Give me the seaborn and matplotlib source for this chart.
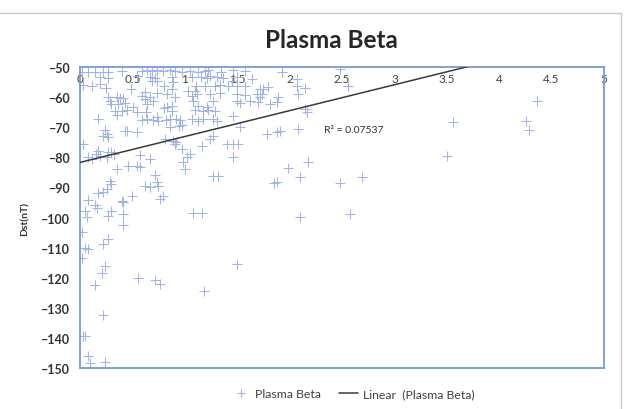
import numpy as np
import pandas as pd
import matplotlib
matplotlib.use("Agg")
import matplotlib.pyplot as plt
import seaborn as sns
from matplotlib.lines import Line2D

# ---------------- data ----------------
beta = [
    0.02, 0.08, 0.14, 0.22, 0.27, 0.40, 0.59, 0.64, 0.69, 0.73, 0.79, 0.86, 0.91, 0.97, 1.05, 1.13, 1.19, 1.22, 1.35, 1.46, 1.57, 1.93, 2.48,
    0.19, 0.27, 0.54, 0.67, 0.72, 0.88, 1.07, 1.15, 1.21, 1.24, 1.31, 1.36, 1.50, 1.64, 2.07,
    0.03, 0.11, 0.19, 0.25, 0.49, 0.69, 0.73, 0.80, 0.89, 0.88, 1.11, 1.19, 1.29, 1.34, 1.41, 1.50, 1.57, 1.72, 1.75, 1.79, 2.07, 2.15, 2.56, 1.45,
    0.62, 0.73, 0.83, 1.03, 1.10, 1.07, 1.12, 1.24, 1.34, 1.50, 1.57, 1.69, 1.74, 2.08, 0.27, 0.35, 0.41, 0.59, 0.67, 0.91, 1.72, 1.89,
    0.29, 0.38, 0.30, 0.36, 0.43, 0.51, 0.62, 0.64, 0.70, 0.80, 0.83, 0.88, 1.08, 1.13, 1.27, 1.21, 1.50, 1.53, 1.62, 1.70, 1.81, 1.88,
    0.33, 0.40, 0.45, 0.35, 0.54, 0.63, 0.73, 0.88, 1.10, 1.17, 1.22, 1.29, 2.15, 2.17, 1.46,
    0.17, 0.59, 0.64, 0.70, 0.74, 0.82, 0.86, 0.92, 0.95, 1.07, 1.17, 1.27, 1.31, 1.13,
    0.24, 0.45, 0.54, 0.86, 0.94, 0.97, 1.53, 1.78, 1.88, 1.91, 2.08, 0.22, 0.27, 0.26, 0.43, 1.24, 1.27,
    0.03, 0.81, 0.89, 0.92, 1.16, 1.40, 1.46, 1.51, 0.97, 0.91,
    0.11, 0.15, 0.17, 0.19, 0.26, 0.27, 0.30, 0.32, 0.08, 0.57, 0.67, 1.02, 1.05, 1.46, 3.50,
    0.98, 1.00, 0.35, 0.46, 0.54, 0.57, 2.18, 1.98, 0.72, 1.27, 1.32, 2.10, 2.69,
    0.29, 0.30, 0.73, 0.74, 0.62, 0.67, 0.26, 0.17, 0.22, 1.88, 1.85, 2.48,
    0.50, 0.79, 0.76, 0.08, 0.40, 0.41, 0.14,
    0.16, 0.05, 0.30, 0.07, 0.27, 0.41, 1.08, 1.16, 2.10, 2.58, 0.41,
    0.02, 0.05, 0.08, 0.02, 0.27, 0.22, 0.24, 0.21, 0.14, 0.55, 0.72, 0.76, 1.18, 1.50, 0.22, 0.03, 0.05, 0.08, 0.10, 0.24,
    4.36, 4.26, 4.28, 3.56,
]
dst = [
    -51.5, -51.5, -51.8, -51.5, -51.8, -51.3, -51.3, -51.0, -51.3, -51.0, -51.3, -51.0, -51.3, -51.5, -51.3, -51.5, -51.3, -51.0, -51.5, -51.0, -51.3, -51.7, -50.7,
    -53.3, -53.5, -53.0, -53.3, -53.5, -53.3, -53.3, -53.3, -53.5, -53.0, -53.3, -53.5, -53.3, -54.0, -54.0,
    -56.0, -56.3, -55.5, -57.0, -57.3, -54.6, -54.6, -56.3, -55.0, -57.3, -56.3, -56.3, -56.3, -56.0, -56.3, -56.3, -56.3, -57.3, -57.3, -56.6, -56.3, -57.0, -56.3, -54.6,
    -58.3, -58.6, -59.0, -58.0, -58.0, -59.6, -59.0, -59.0, -58.6, -59.0, -59.3, -59.0, -59.0, -59.0, -60.0, -60.0, -60.3, -59.6, -60.0, -60.0, -60.0, -60.0,
    -61.3, -60.3, -62.3, -62.3, -62.0, -63.3, -60.6, -62.3, -61.3, -63.5, -63.3, -63.0, -61.3, -63.0, -61.3, -63.3, -61.3, -62.0, -61.3, -61.6, -62.3, -61.6,
    -64.6, -64.6, -64.3, -66.0, -65.0, -65.0, -66.6, -64.6, -64.3, -64.6, -64.3, -64.6, -64.0, -65.0, -66.3,
    -67.3, -67.6, -67.3, -67.6, -68.0, -67.6, -67.3, -67.3, -67.6, -67.3, -67.3, -67.3, -68.0, -68.0,
    -71.0, -71.3, -71.6, -70.0, -69.6, -69.3, -70.0, -72.3, -71.6, -71.3, -70.6, -73.0, -73.3, -72.3, -71.3, -74.0, -73.0,
    -75.6, -74.0, -74.6, -75.0, -76.2, -75.6, -75.6, -75.6, -77.3, -75.6,
    -80.6, -79.0, -78.0, -79.6, -80.0, -78.3, -78.3, -79.0, -80.0, -79.3, -80.6, -80.0, -79.0, -80.0, -79.6,
    -81.6, -84.0, -84.0, -83.0, -83.0, -83.3, -81.6, -83.6, -86.0, -86.3, -86.3, -86.5, -86.5,
    -88.0, -89.0, -88.3, -89.5, -89.5, -89.8, -90.5, -92.0, -91.5, -88.2, -88.5, -88.5,
    -93.0, -92.8, -94.0, -94.3, -94.5, -95.0, -96.0,
    -96.8, -97.8, -97.8, -99.8, -99.5, -98.8, -98.5, -98.5, -99.8, -98.8, -102.5,
    -104.8, -110.0, -110.5, -113.5, -107.0, -108.8, -116.0, -118.5, -122.5, -120.0, -120.6, -122.0, -124.5, -115.5, -132.5, -139.5, -139.5, -146.0, -148.5, -148.0,
    -61.3, -68.0, -71.0, -68.3,
]
trend_slope = 8.6
trend_intercept = -81.7
r_squared = "0.07537"
x_ticks = [0, 0.5, 1, 1.5, 2, 2.5, 3, 3.5, 4, 4.5, 5]
x_tick_labels = ["0", "0.5", "1", "1.5", "2", "2.5", "3", "3.5", "4", "4.5", "5"]
y_ticks = [-50, -60, -70, -80, -90, -100, -110, -120, -130, -140, -150]
series_name = "Plasma Beta"
trend_name = "Linear  (Plasma Beta)"

# ---------------- plot ----------------
sns.set_theme(style="white")
plt.rcParams["font.family"] = ["Lato", "DejaVu Sans"]

df = pd.DataFrame({"beta": beta, "dst": dst})
tx = np.linspace(x_ticks[0], x_ticks[-1], 50)
trend = pd.DataFrame({"beta": tx, "dst": trend_slope * tx + trend_intercept})

fig = plt.figure(figsize=(6.25, 4.1), dpi=100)
ax = fig.add_axes([80 / 625, 1 - 369 / 410, (604 - 80) / 625, (369 - 68) / 410])

pt_color = "#a2b4e4"
sns.scatterplot(data=df, x="beta", y="dst", marker="+", s=45, color=pt_color,
                linewidth=0.75, ax=ax, legend=False, zorder=2)
sns.lineplot(data=trend, x="beta", y="dst", color="#3a3a3a", linewidth=1.1,
             ax=ax, legend=False, zorder=3)

ax.set_xlim(0, 5)
ax.set_ylim(-150, -50)
ax.set_xticks(x_ticks)
ax.set_xticklabels(x_tick_labels)
ax.set_yticks(y_ticks)
ax.xaxis.set_ticks_position("top")
ax.tick_params(axis="x", labeltop=True, labelbottom=False, length=0,
               pad=-12.5, labelsize=8.5, labelcolor="#404040")
ax.tick_params(axis="y", length=0, pad=7.5, labelsize=9, labelcolor="#333333")
for lab in ax.get_yticklabels():
    lab.set_fontweight("bold")
ax.set_xlabel("")
ax.set_ylabel("Dst(nT)", fontsize=7.5, fontweight="bold", color="#333333", labelpad=8)
ax.grid(False)
for sp in ax.spines.values():
    sp.set_visible(True)
    sp.set_color("#7a98d6")
    sp.set_linewidth(1.3)

ax.text(2.33, -70.6, "R² = " + r_squared, fontsize=7.5, color="#333333",
        va="center", ha="left")

fig.text(0.531, 1 - 40 / 410, "Plasma Beta", ha="center", va="center",
         fontsize=17.5, fontweight="bold", color="#262626")

handles = [
    Line2D([], [], marker="+", linestyle="none", color=pt_color, markersize=6, markeredgewidth=0.8),
    Line2D([], [], color="#3a3a3a", linewidth=1.1),
]
fig.legend(handles, [series_name, trend_name], loc="center",
           bbox_to_anchor=(0.565, 1 - 395 / 410), ncol=2, frameon=False,
           fontsize=8.8, handlelength=1.5, columnspacing=1.5, handletextpad=0.4,
           labelcolor="#404040")

# outer chart-area border (top and right edges visible)
fig.add_artist(Line2D([0, 621 / 625], [1 - 14 / 410, 1 - 14 / 410],
                      transform=fig.transFigure, color="#c8c8c8", linewidth=1))
fig.add_artist(Line2D([621 / 625, 621 / 625], [0, 1 - 14 / 410],
                      transform=fig.transFigure, color="#c8c8c8", linewidth=1))

fig.savefig("out.png", dpi=100)
